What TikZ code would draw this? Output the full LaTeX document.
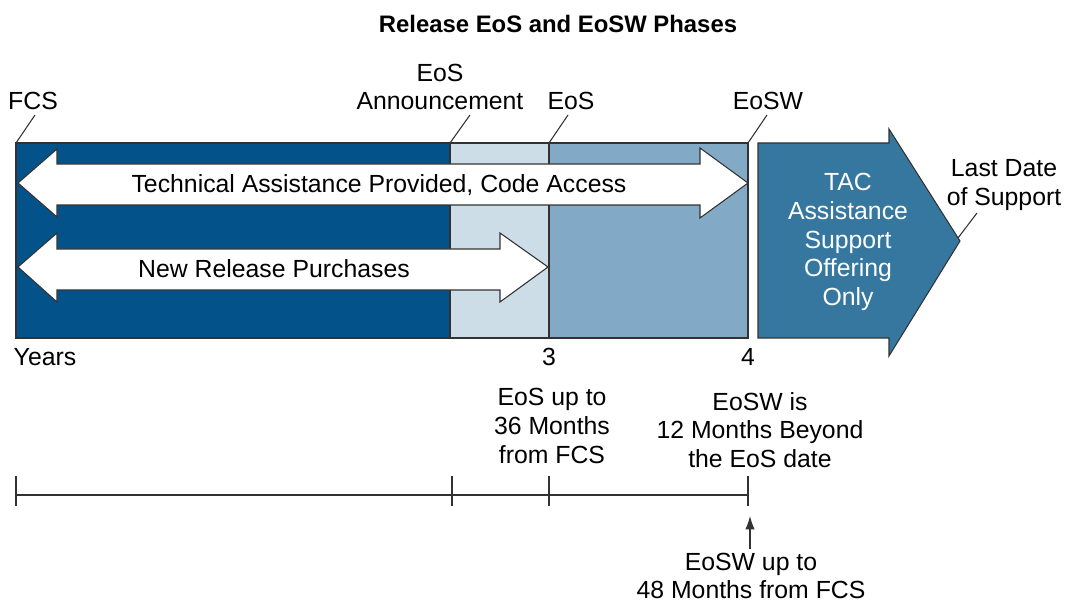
\documentclass[tikz,border=0pt]{standalone}
\usepackage{fontspec}
\setmainfont{Liberation Sans}
\usetikzlibrary{arrows.meta}

\definecolor{darkblue}{RGB}{4,82,138}
\definecolor{paleblue}{RGB}{205,221,232}
\definecolor{midblue}{RGB}{130,170,198}
\definecolor{tacblue}{RGB}{54,119,160}
\definecolor{edge}{RGB}{50,50,50}

\begin{document}
\begin{tikzpicture}
        [x=0.75pt,y=-0.75pt,line width=0.8pt,draw=edge,
         every node/.style={inner sep=0,align=center,text=black,font=\fontsize{18.6}{21.6}\selectfont}]

        \useasboundingbox (0,0) rectangle (1065,605);

        \node (title) at (558,24) {\fontsize{17.9}{20}\selectfont\bfseries Release EoS and EoSW Phases};

        % phases
        \draw[edge,fill=darkblue] (16,143) rectangle (450,338);
        \draw[edge,fill=paleblue] (450,143) rectangle (549,338);
        \draw[edge,fill=midblue] (549,143) rectangle (748,338);

        \draw[edge,fill=white] (18,183) -- (57,149) -- (57,164) -- (700,164) -- (700,148)
              -- (748,183) -- (700,218) -- (700,205) -- (57,205) -- (57,217) -- cycle;
        \draw[edge,fill=white] (18,267) -- (57,233) -- (57,249) -- (500,249) -- (500,233)
              -- (548,267) -- (500,302) -- (500,290) -- (57,290) -- (57,302) -- cycle;
        \node (tech) at (379,185) {Technical Assistance Provided, Code Access};
        \node (buy) at (274,269) {New Release Purchases};

        \draw[edge,fill=tacblue] (758,143) -- (889,143) -- (889,129) -- (960,241)
              -- (889,356) -- (889,338) -- (758,338) -- cycle;
        \node[text=white] (tac) at (848,242)
              {TAC\\Assistance\\Support\\Offering\\Only};

        % milestones
        \coordinate (fcs) at (16,143);
        \coordinate (ann) at (450,143);
        \coordinate (eos) at (549,143);
        \coordinate (eosw) at (748,143);
        \coordinate (last) at (958,238);
        \coordinate (fcsend) at (35,115);
        \coordinate (annend) at (470,115);
        \coordinate (eosend) at (568,115);
        \coordinate (eoswend) at (767,115);
        \coordinate (lastend) at (977,213);

        \node (fcslbl) at (33,101) {FCS};
        \node (annlbl) at (440,87) {EoS\\Announcement};
        \node (eoslbl) at (571,101) {EoS};
        \node (eoswlbl) at (768,101) {EoSW};
        \node (lastlbl) at (1004,185) {Last Date\\of Support};

        \draw (fcs) -- (fcsend);
        \draw (ann) -- (annend);
        \draw (eos) -- (eosend);
        \draw (eosw) -- (eoswend);
        \draw (last) -- (lastend);

        \node (years) at (45,357) {Years};
        \node (three) at (549,357) {3};
        \node (four) at (748,357) {4};

        \node (eosnote) at (552,426) {EoS up to\\36 Months\\from FCS};
        \node (eoswnote) at (760,430) {EoSW is\\12 Months Beyond\\the EoS date};

        % timeline
        \coordinate (t0) at (16,495);
        \coordinate (t1) at (452,495);
        \coordinate (t2) at (549,495);
        \coordinate (t3) at (748,495);
        \draw (t0) -- (t3);
        \draw (16,476) -- (16,506);
        \draw (452,476) -- (452,506);
        \draw (549,476) -- (549,506);
        \draw (748,476) -- (748,506);

        \coordinate (pin) at (750,516);
        \node (limit) at (751,576) {EoSW up to\\48 Months from FCS};
        \draw[-{Latex[length=10pt,width=7pt]}] (750,549) -- (pin);
      \end{tikzpicture}
\end{document}
